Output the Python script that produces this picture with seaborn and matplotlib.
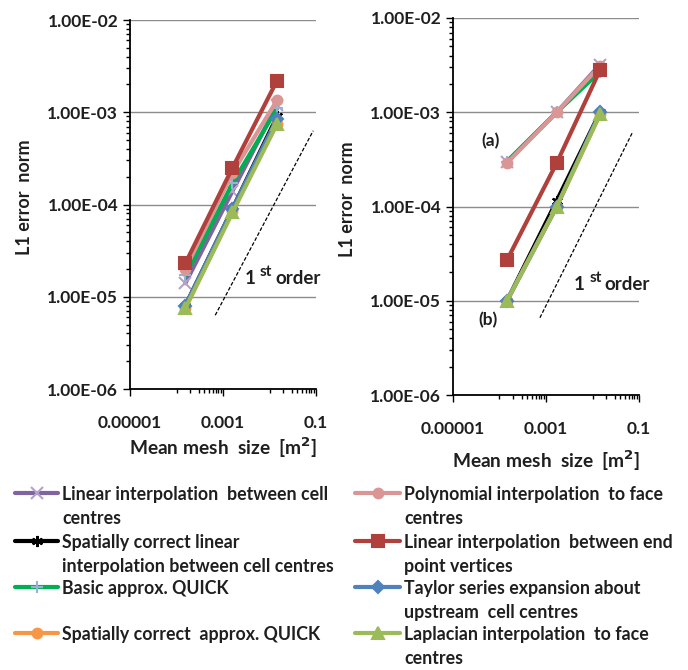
import matplotlib
matplotlib.use("Agg")
import numpy as np
import pandas as pd
import matplotlib.pyplot as plt
import matplotlib.ticker as mtick
from matplotlib.lines import Line2D
import seaborn as sns

sns.set_style("white")
plt.rcParams['font.family'] = ['Lato', 'DejaVu Sans']
plt.rcParams['font.weight'] = 'bold'

# mesh sizes [m^2]
mesh_left = [1.55e-4, 1.6e-3, 1.45e-2]
mesh_right = [1.45e-4, 1.7e-3, 1.45e-2]

series_names = [
    "Linear interpolation  between cell\ncentres",
    "Spatially correct linear\ninterpolation between cell centres",
    "Basic approx. QUICK",
    "Spatially correct  approx. QUICK",
    "Polynomial interpolation  to face\ncentres",
    "Linear interpolation  between end\npoint vertices",
    "Taylor series expansion about\nupstream  cell centres",
    "Laplacian interpolation  to face\ncentres",
]

# L1 error norm, left panel
left_lin_cc = [1.4e-5, 1.4e-4, 1.2e-3]
left_sc_lin = [8.0e-6, 9.0e-5, 9.0e-4]
left_quick = [1.7e-5, 1.7e-4, 1.1e-3]
left_sc_quick = [7.5e-6, 8.5e-5, 7.5e-4]
left_poly = [2.0e-5, 2.2e-4, 1.35e-3]
left_lin_end = [2.3e-5, 2.5e-4, 2.2e-3]
left_taylor = [8.0e-6, 9.0e-5, 8.5e-4]
left_laplace = [7.5e-6, 8.2e-5, 7.5e-4]

# L1 error norm, right panel
right_lin_cc = [3.0e-4, 1.0e-3, 3.2e-3]
right_sc_lin = [1.0e-5, 1.15e-4, 1.0e-3]
right_quick = [3.0e-4, 1.0e-3, 2.7e-3]
right_sc_quick = [1.0e-5, 1.0e-4, 9.5e-4]
right_poly = [2.9e-4, 1.0e-3, 3.1e-3]
right_lin_end = [2.7e-5, 2.9e-4, 2.8e-3]
right_taylor = [1.0e-5, 1.0e-4, 1.0e-3]
right_laplace = [1.0e-5, 1.0e-4, 9.5e-4]

# first order reference lines
slope_left_x = [6.8e-4, 8.7e-2]
slope_left_y = [6.3e-6, 6.3e-4]
slope_right_x = [7.4e-4, 7.1e-2]
slope_right_y = [6.6e-6, 6.0e-4]

left_data = [left_lin_cc, left_sc_lin, left_quick, left_sc_quick,
             left_poly, left_lin_end, left_taylor, left_laplace]
right_data = [right_lin_cc, right_sc_lin, right_quick, right_sc_quick,
              right_poly, right_lin_end, right_taylor, right_laplace]

line_colors = ['#8064A2', '#000000', '#00B050', '#F79646',
               '#DA9694', '#B0403C', '#4F81BD', '#9BBB59']
marker_colors = ['#B3A2C7', '#000000', '#95B3D7', '#F79646',
                 '#DA9694', '#B0403C', '#4F81BD', '#9BBB59']
markers = ['x', (6, 2, 0), '+', 'o', 'o', 's', 'D', '^']
marker_sizes = [8, 8, 9, 7, 7, 9, 6, 8]

text_col = '#1F1F1F'

fig = plt.figure(figsize=(6.88, 6.70), dpi=100)
W, H = 688, 670
ax1 = fig.add_axes([130 / W, 1 - 389 / H, 186 / W, 369 / H])
ax2 = fig.add_axes([453 / W, 1 - 395 / H, 186 / W, 377 / H])


def draw_panel(ax, mesh, data, xlabelpad):
    for vals, lc, mc, mk, ms in zip(data, line_colors, marker_colors, markers, marker_sizes):
        sns.lineplot(x=mesh, y=vals, ax=ax, color=lc, linewidth=3,
                     marker=mk, markersize=ms, markeredgecolor=mc,
                     markerfacecolor=mc, markeredgewidth=1.5, legend=False)
    ax.set_xscale('log')
    ax.set_yscale('log')
    ax.set_xlim(1e-5, 0.1)
    ax.set_ylim(1e-6, 1e-2)
    ax.xaxis.set_major_locator(mtick.FixedLocator([1e-5, 1e-3, 1e-1]))
    ax.xaxis.set_major_formatter(mtick.FixedFormatter(['0.00001', '0.001', '0.1']))
    minor_x = [k * 1e-4 for k in range(1, 10)] + [k * 1e-2 for k in range(1, 10)]
    ax.xaxis.set_minor_locator(mtick.FixedLocator(minor_x))
    ax.xaxis.set_minor_formatter(mtick.NullFormatter())
    ax.yaxis.set_major_locator(mtick.LogLocator(base=10))
    ax.yaxis.set_major_formatter(mtick.FuncFormatter(lambda v, _: f'{v:.2E}'))
    ax.yaxis.set_minor_locator(mtick.LogLocator(base=10, subs=np.arange(2, 10)))
    ax.yaxis.set_minor_formatter(mtick.NullFormatter())
    ax.yaxis.grid(True, which='major', color='#8C8C8C', linewidth=1)
    ax.xaxis.grid(False)
    ax.set_axisbelow(True)
    for s in ['top', 'right']:
        ax.spines[s].set_visible(False)
    for s in ['left', 'bottom']:
        ax.spines[s].set_color('black')
        ax.spines[s].set_linewidth(1.3)
    ax.tick_params(which='major', direction='out', length=5, width=1, color='black',
                   labelsize=12.5, labelcolor=text_col, left=True, bottom=True)
    ax.tick_params(axis='x', which='major', pad=14)
    ax.tick_params(which='minor', direction='out', length=3, width=1, color='black',
                   left=True, bottom=True)
    ax.set_xlabel('Mean mesh  size  [m$^\\mathbf{2}$]', fontsize=13.8, color=text_col,
                  fontweight='bold', labelpad=xlabelpad)
    ax.set_ylabel('L1 error  norm', fontsize=13, color=text_col, fontweight='bold')
    ax.yaxis.set_label_coords(-0.52, 0.52)


draw_panel(ax1, mesh_left, left_data, 3)
draw_panel(ax2, mesh_right, right_data, 8)

ax1.plot(slope_left_x, slope_left_y, color='black', lw=0.9, ls=(0, (3, 1.5)))
ax2.plot(slope_right_x, slope_right_y, color='black', lw=0.9, ls=(0, (3, 1.5)))


def order_label(ax, x, y):
    ax.text(x, y, '1', fontsize=13.5, color=text_col, va='baseline', ha='left')
    ax.annotate('st', xy=(x, y), xytext=(11, 6), textcoords='offset points',
                fontsize=11, color=text_col, va='baseline', ha='left')
    ax.annotate('order', xy=(x, y), xytext=(22, 0), textcoords='offset points',
                fontsize=13.5, color=text_col, va='baseline', ha='left')


order_label(ax1, 2.9e-3, 1.38e-5)
order_label(ax2, 4.0e-3, 1.29e-5)

ax2.text(6.4e-5, 4.9e-4, '(a)', fontsize=12.5, color=text_col, ha='center', va='center')
ax2.text(5.7e-5, 6.3e-6, '(b)', fontsize=12.5, color=text_col, ha='center', va='center')

# legend, laid out like the spreadsheet one (handle on the first line of each entry)
rows_y = [493, 541, 587, 633]
line_pitch = 24
cols = [(15, 58, 62), (355, 400, 404)]
for i, name in enumerate(series_names):
    col = 0 if i < 4 else 1
    row = i % 4
    x0, x1, xt = cols[col]
    y = 1 - rows_y[row] / H
    ln = Line2D([x0 / W, (x0 + x1) / 2 / W, x1 / W], [y, y, y], transform=fig.transFigure,
                color=line_colors[i], lw=3, marker=markers[i], markevery=[1],
                markersize=marker_sizes[i], markeredgecolor=marker_colors[i],
                markerfacecolor=marker_colors[i], markeredgewidth=1.5)
    fig.add_artist(ln)
    for j, part in enumerate(name.split('\n')):
        fig.text(xt / W, y - j * line_pitch / H, part, fontsize=12.8, color=text_col,
                 ha='left', va='center_baseline')

fig.savefig('out.png', dpi=100)
